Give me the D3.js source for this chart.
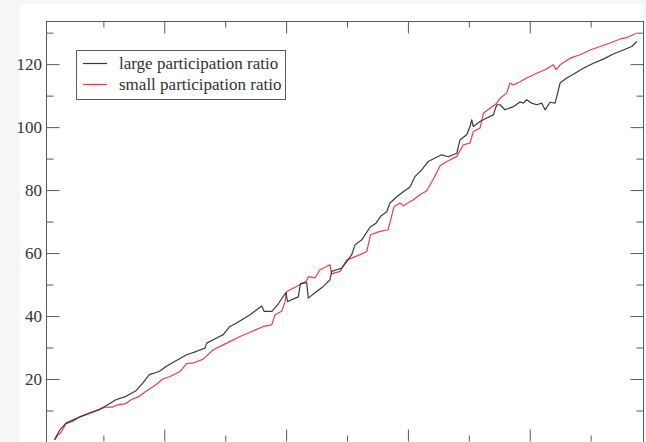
<!DOCTYPE html>
<html><head><meta charset="utf-8">
<script src="https://cdn.jsdelivr.net/npm/d3@7"></script>
<style>
html,body{margin:0;padding:0;background:#f4f6f7;}
svg{display:block;}
</style></head>
<body>
<svg id="chart" width="646" height="442"></svg>
<script>
// x positions (arbitrary step units) and values
const largeX = [9.7,14.4,19.3,30.2,38.4,46.6,52.1,60.3,68.6,76.8,82.3,87.7,95.9,101.4,109.6,118.4,126.6,133.4,134.8,143.0,148.4,153.9,159.4,170.4,180.0,181.9,188.4,193.6,199.7,201.3,210.0,211.8,216.9,218.2,225.1,230.5,236.0,237.4,241.5,245.6,249.8,253.9,256.6,262.1,268.9,273.8,277.9,282.6,285.3,290.8,296.2,301.7,305.8,311.3,316.7,322.2,327.7,333.2,340.1,342.8,348.3,351.0,352.4,353.7,359.2,364.7,370.1,372.9,375.6,379.7,386.5,392.0,394.7,397.5,401.6,405.7,409.9,412.6,416.7,420.8,422.2,424.9,430.4,435.8,444.0,452.2,460.4,468.6,476.8,483.7,487.8];
const largeY = [0.7,3.9,6.0,7.9,9.2,10.3,11.5,13.4,14.5,16.3,18.7,21.4,22.4,24.0,25.8,27.7,28.8,29.8,31.4,33.0,34.1,36.7,37.8,40.4,43.2,41.5,41.5,43.9,47.4,44.6,46.1,50.3,50.6,45.7,47.8,49.4,51.5,54.2,54.7,55.2,57.3,59.5,62.6,64.2,68.2,69.5,71.8,73.1,75.9,77.9,79.5,81.0,84.3,86.4,89.1,90.2,91.2,90.6,91.7,96.0,97.6,100.2,102.3,100.2,101.8,102.9,103.9,107.1,107.1,105.5,106.5,108.0,107.6,108.7,107.6,107.1,107.6,105.5,107.9,107.6,109.7,114.0,115.6,116.8,118.7,120.3,121.6,123.2,124.5,125.6,127.2];
const smallX = [10.5,12.5,15.2,19.3,24.8,30.2,38.4,46.6,52.1,57.6,61.7,68.6,72.7,79.5,85.6,93.2,98.7,104.7,112.9,118.4,123.8,132.0,140.2,151.2,162.2,171.8,181.3,188.2,190.9,196.4,199.1,200.5,208.7,216.9,218.2,223.7,227.8,236.0,237.4,244.3,249.8,253.9,260.7,266.2,269.3,277.1,283.7,288.6,293.5,296.2,304.4,309.9,315.4,320.6,326.4,331.9,340.1,345.5,351.0,353.7,359.2,361.9,367.4,372.9,375.6,381.1,383.8,386.5,392.0,397.5,405.7,412.6,419.4,421.6,424.9,433.1,441.3,449.5,457.7,465.9,474.1,479.6,487.3];
const smallY = [0.7,2.2,3.0,5.8,6.5,7.9,9.0,10.3,11.1,11.1,11.8,12.2,13.4,14.5,16.3,18.2,20.0,20.8,22.4,24.9,25.1,26.3,29.3,31.4,33.5,35.1,36.7,37.2,40.4,41.5,44.5,47.8,49.4,51.2,52.5,52.1,54.7,56.3,53.4,54.2,57.9,58.4,59.5,60.5,65.8,66.9,67.4,74.7,75.9,75.0,76.9,78.5,79.8,83.3,87.7,89.1,90.7,94.4,94.9,98.6,99.7,104.4,106.0,107.6,109.2,110.8,114.0,113.4,114.4,115.6,117.1,118.2,119.8,118.2,119.8,121.9,123.0,124.5,125.6,126.7,128.0,128.4,129.8];
const seriesNames = ["large participation ratio","small participation ratio"];
const yTickValues = [20,40,60,80,100,120];
const yMinorValues = [10,30,50,70,90,110,130];
const xTickValues = [100,200,300,400];
const xMinorValues = [50,150,250,350,450];

(function(){
const svg = d3.select("#chart");
const W = 646, H = 442;
const mLeft = 46, mRight = 644, mTop = 21, mBottom = 442;
const colors = ["#3a3a3a", "#ea3f48"];
const axisColor = "#5a5a5a";
const fontFam = "'Liberation Serif', 'Times New Roman', serif";

svg.append("rect").attr("x",20).attr("y",4).attr("width",623).attr("height",H-4).attr("fill","#ffffff");

const x = d3.scaleLinear().domain([2.9, 493.8]).range([mLeft, mRight]);
const y = d3.scaleLinear().domain([0, 133.7]).range([mBottom, mTop]);

const g = svg.append("g");

g.append("rect").attr("x",mLeft+0.5).attr("y",mTop+0.5).attr("width",mRight-mLeft-1).attr("height",mBottom-mTop)
  .attr("fill","none").attr("stroke",axisColor).attr("stroke-width",1);

function styleAxis(sel){
  sel.select(".domain").remove();
  sel.selectAll("line").attr("stroke",axisColor).attr("stroke-width",1);
}
const la = g.append("g").attr("transform",`translate(${mLeft+0.5},0)`)
  .call(d3.axisLeft(y).tickValues(yTickValues).tickSize(-13).tickPadding(4.5).tickFormat(d3.format("d")));
styleAxis(la);
la.selectAll("text").attr("font-family",fontFam).attr("font-size",17).attr("fill","#333");
g.append("g").attr("transform",`translate(${mLeft+0.5},0)`)
  .call(d3.axisLeft(y).tickValues(yMinorValues).tickSize(-7).tickFormat("")).call(styleAxis);
g.append("g").attr("transform",`translate(${mRight-0.5},0)`)
  .call(d3.axisRight(y).tickValues(yTickValues).tickSize(-13).tickFormat("")).call(styleAxis);
g.append("g").attr("transform",`translate(${mRight-0.5},0)`)
  .call(d3.axisRight(y).tickValues(yMinorValues).tickSize(-7).tickFormat("")).call(styleAxis);
g.append("g").attr("transform",`translate(0,${mTop+0.5})`)
  .call(d3.axisTop(x).tickValues(xTickValues).tickSize(-12).tickFormat("")).call(styleAxis);
g.append("g").attr("transform",`translate(0,${mTop+0.5})`)
  .call(d3.axisTop(x).tickValues(xMinorValues).tickSize(-6).tickFormat("")).call(styleAxis);
g.append("g").attr("transform",`translate(0,${mBottom-0.5})`)
  .call(d3.axisBottom(x).tickValues(xTickValues).tickSize(-12).tickFormat("")).call(styleAxis);
g.append("g").attr("transform",`translate(0,${mBottom-0.5})`)
  .call(d3.axisBottom(x).tickValues(xMinorValues).tickSize(-6).tickFormat("")).call(styleAxis);

const line = d3.line().x(d=>x(d[0])).y(d=>y(d[1]));
const large = largeX.map((v,i)=>[v, largeY[i]]);
const small = smallX.map((v,i)=>[v, smallY[i]]);
g.append("path").datum(small).attr("d",line).attr("fill","none").attr("stroke",colors[1]).attr("stroke-width",1.2).attr("stroke-linejoin","round");
g.append("path").datum(large).attr("d",line).attr("fill","none").attr("stroke",colors[0]).attr("stroke-width",1.2).attr("stroke-linejoin","round");

const lg = g.append("g");
lg.append("rect").attr("x",76.5).attr("y",50.5).attr("width",209).attr("height",49)
  .attr("fill","#fff").attr("stroke",axisColor).attr("stroke-width",1);
seriesNames.forEach((name,i)=>{
  const yy = 63 + i*21;
  lg.append("line").attr("x1",83).attr("x2",107).attr("y1",yy+0.5).attr("y2",yy+0.5)
    .attr("stroke",colors[i]).attr("stroke-width",1.2);
  lg.append("text").attr("x",119).attr("y",yy+6).text(name)
    .attr("font-family",fontFam).attr("font-size",17).attr("fill","#333");
});
})();
</script>
</body></html>
